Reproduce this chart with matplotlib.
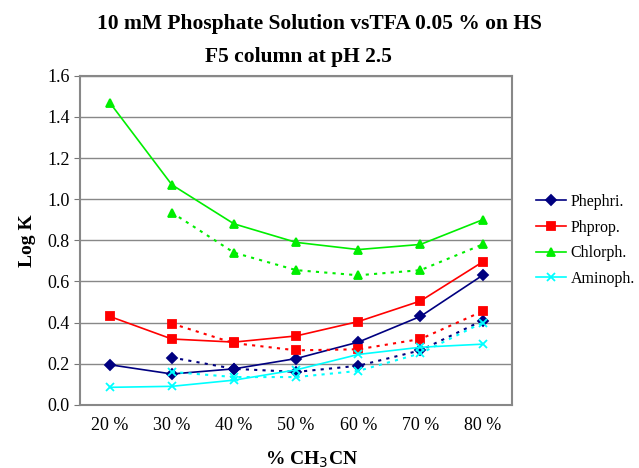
import matplotlib.pyplot as plt

plt.rcParams['font.family'] = ['Liberation Serif', 'DejaVu Serif']

cats = ['20 %', '30 %', '40 %', '50 %', '60 %', '70 %', '80 %']

# phosphate (solid lines), all 7 points
phephri = [0.195, 0.15, 0.175, 0.225, 0.305, 0.43, 0.63]
phprop = [0.43, 0.32, 0.305, 0.335, 0.405, 0.505, 0.695]
chlorph = [1.47, 1.07, 0.88, 0.79, 0.755, 0.78, 0.90]
aminoph = [0.085, 0.09, 0.12, 0.17, 0.245, 0.28, 0.295]

# TFA (dotted lines), from 30 %
phephri_tfa = [0.23, 0.175, 0.16, 0.19, 0.265, 0.41]
phprop_tfa = [0.395, 0.30, 0.265, 0.27, 0.32, 0.455]
chlorph_tfa = [0.935, 0.74, 0.655, 0.63, 0.655, 0.78]
aminoph_tfa = [0.16, 0.135, 0.135, 0.165, 0.25, 0.40]

names = ['Phephri.', 'Phprop.', 'Chlorph.', 'Aminoph.']
colors = ['#000080', '#ff0000', '#00ee00', '#00ffff']
markers = ['D', 's', '^', 'x']
sizes = [5, 6, 6, 6]

fig = plt.figure(figsize=(6.39, 4.68), dpi=100)
ax = fig.add_axes([0.125, 0.135, 0.677, 0.703])

xs = list(range(len(cats)))
solid = [phephri, phprop, chlorph, aminoph]
dotted = [phephri_tfa, phprop_tfa, chlorph_tfa, aminoph_tfa]
for i in range(4):
    ax.plot(xs, solid[i], color=colors[i], marker=markers[i], ms=sizes[i],
            lw=1.2, mew=1.3, label=names[i], zorder=3)
    ax.plot(xs[1:], dotted[i], color=colors[i], marker=markers[i], ms=sizes[i],
            lw=1.5, ls=(0, (1.5, 2.5)), mew=1.3, zorder=3)

ax.set_xlim(-0.48, 6.48)
ax.set_ylim(0, 1.6)
ax.set_yticks([0.0, 0.2, 0.4, 0.6, 0.8, 1.0, 1.2, 1.4, 1.6])
ax.set_yticklabels(['0.0', '0.2', '0.4', '0.6', '0.8', '1.0', '1.2', '1.4', '1.6'])
ax.set_xticks(xs)
ax.set_xticklabels(cats)
ax.tick_params(axis='x', length=0, labelsize=13, pad=9)
ax.tick_params(axis='y', length=4, labelsize=13, color='#777777')
ax.grid(axis='y', color='#888888', lw=1)
ax.set_axisbelow(True)
for s in ['top', 'right', 'left', 'bottom']:
    ax.spines[s].set_color('#888888')
    ax.spines[s].set_linewidth(1.5)

ax.set_ylabel('Log K', fontsize=14, fontweight='bold', labelpad=8)
ax.set_xlabel('% CH$_3$CN', fontsize=14, fontweight='bold', labelpad=7)
ax.xaxis.set_label_coords(0.535, -0.135)
fig.text(0.5, 0.97, '10 mM Phosphate Solution vsTFA 0.05 % on HS',
         ha='center', va='top', fontsize=15.5, fontweight='bold')
fig.text(0.467, 0.9, 'F5 column at pH 2.5',
         ha='center', va='top', fontsize=15.5, fontweight='bold')

ax.legend(loc='center left', bbox_to_anchor=(1.02, 0.5), frameon=False,
          fontsize=11.5, handlelength=1.9, handletextpad=0.3, labelspacing=0.6)

fig.savefig('out.png')
